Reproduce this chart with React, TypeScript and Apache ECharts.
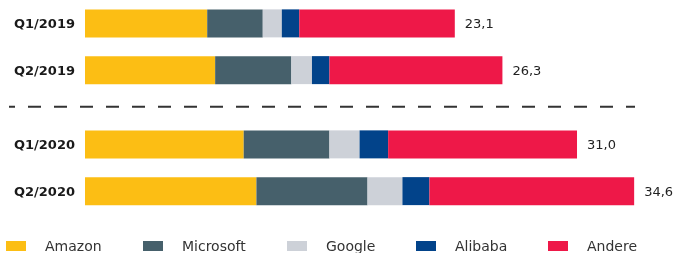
import React, { useEffect, useRef } from "react";
import * as echarts from "echarts";

const categories2019 = ["Q1/2019", "Q2/2019"];
const categories2020 = ["Q1/2020", "Q2/2020"];
const seriesNames = ["Amazon", "Microsoft", "Google", "Alibaba", "Andere"];
const colors = ["#FCBE14", "#46606B", "#CDD1D8", "#02438A", "#EE1848"];
// values per quarter, order Q1/2019, Q2/2019, Q1/2020, Q2/2020
const amazon = [7.7, 8.2, 10.0, 10.8];
const microsoft = [3.5, 4.8, 5.4, 7.0];
const google = [1.2, 1.3, 1.9, 2.2];
const alibaba = [1.1, 1.1, 1.8, 1.7];
const andere = [9.8, 10.9, 11.9, 12.9];
const totals = [23.1, 26.3, 31.0, 34.6];

const seriesValues = [amazon, microsoft, google, alibaba, andere];
const legendLeft = [6, 143, 287, 416, 548];

export default function App() {
  const ref = useRef<HTMLDivElement>(null);
  useEffect(() => {
    if (!ref.current) return;
    const chart = echarts.init(ref.current, null, { renderer: "svg" });
    const font = "DejaVu Sans";
    const fmt = (v: number) => v.toFixed(1).replace(".", ",");
    const grids = [
      { left: 85, right: 47.5, top: 0, height: 93.5 },
      { left: 85, right: 47.5, top: 121, height: 93.5 },
    ];
    const xAxes = [0, 1].map((i) => ({
      type: "value",
      gridIndex: i,
      min: 0,
      max: 35,
      show: false,
    }));
    const yAxes = [categories2019, categories2020].map((cats, i) => ({
      type: "category",
      gridIndex: i,
      data: cats,
      inverse: true,
      axisLine: { show: false },
      axisTick: { show: false },
      axisLabel: {
        margin: 10,
        fontFamily: font,
        fontWeight: "bold",
        fontSize: 13,
        color: "#1a1a1a",
      },
    }));
    const series: any[] = [];
    [0, 1].forEach((g) => {
      seriesNames.forEach((name, si) => {
        const vals = seriesValues[si].slice(g * 2, g * 2 + 2);
        const isLast = si === seriesNames.length - 1;
        series.push({
          type: "bar",
          name,
          xAxisIndex: g,
          yAxisIndex: g,
          stack: "total" + g,
          barWidth: 28,
          itemStyle: { color: colors[si] },
          data: vals,
          label: isLast
            ? {
                show: true,
                position: "right",
                distance: 10,
                fontFamily: font,
                fontSize: 13,
                color: "#222",
                formatter: (p: any) => fmt(totals[g * 2 + p.dataIndex]),
              }
            : { show: false },
        });
      });
    });
    chart.setOption({
      animation: false,
      grid: grids,
      xAxis: xAxes,
      yAxis: yAxes,
      legend: seriesNames.map((name, i) => ({
        data: [name],
        left: legendLeft[i],
        top: 239,
        padding: 0,
        itemWidth: 20,
        itemHeight: 10,
        icon: "rect",
        selectedMode: false,
        textStyle: {
          fontFamily: font,
          fontSize: 14,
          color: "#333",
          padding: [0, 0, 0, 14],
        },
      })),
      graphic: [
        {
          type: "line",
          shape: { x1: 9, y1: 106.7, x2: 635, y2: 106.7 },
          style: {
            stroke: "#333",
            lineWidth: 2,
            lineDash: [13, 13],
            lineDashOffset: 7,
          },
        },
      ],
      series,
    });
    return () => chart.dispose();
  }, []);
  return (
    <div
      ref={ref}
      style={{ position: "fixed", left: 0, top: 0, width: 688, height: 253 }}
    />
  );
}
